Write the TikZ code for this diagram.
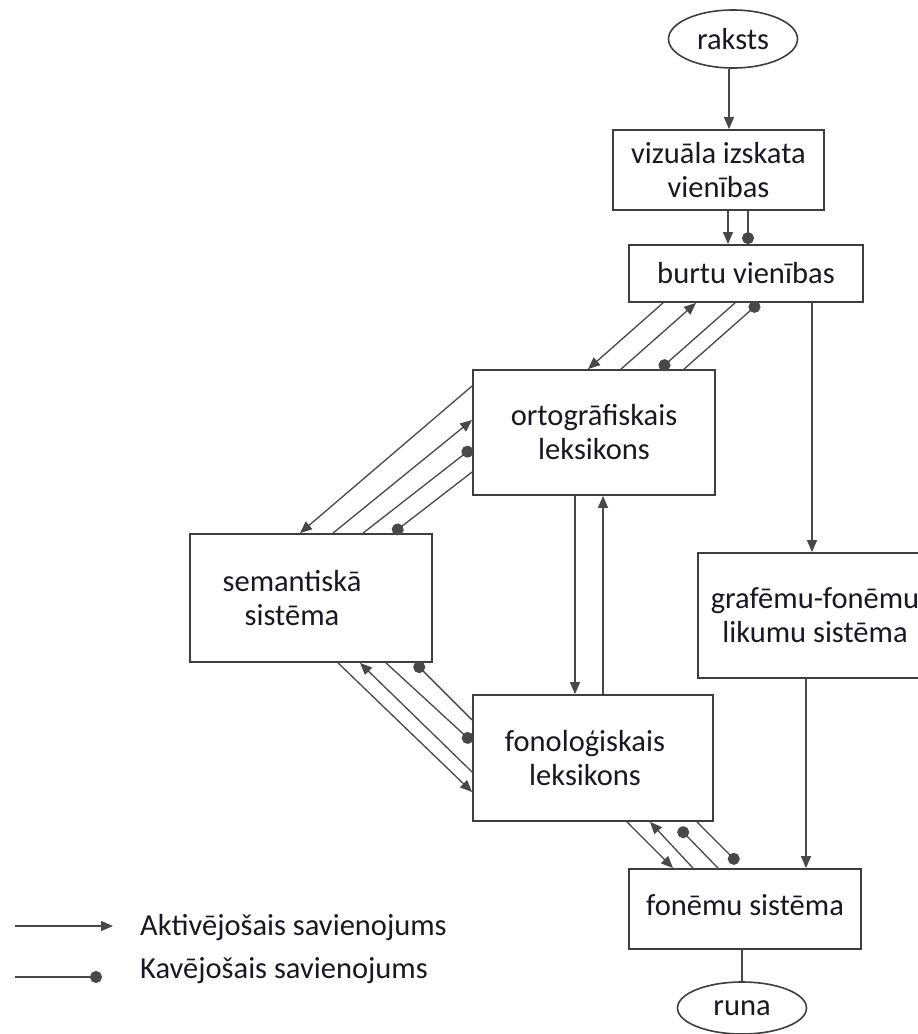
\documentclass[tikz,border=0pt]{standalone}
\usepackage{fontspec}
\setmainfont{Carlito}
\usetikzlibrary{arrows.meta,shapes.geometric,calc}
\definecolor{textc}{RGB}{24,24,36}
\definecolor{linec}{RGB}{72,72,72}
\definecolor{boxc}{RGB}{62,62,62}
\begin{document}
\begin{tikzpicture}[x=1pt,y=-1pt,
  font=\fontsize{30.5}{34}\selectfont,
  box/.style={draw=boxc,line width=1.8pt,text=textc,align=center,inner sep=0pt},
  oval/.style={ellipse,draw=boxc,line width=1.6pt,text=textc,inner sep=0pt},
  txt/.style={text=textc,align=center,inner sep=0pt},
  act/.style={draw=linec,line width=1.3pt,-{Triangle[length=12pt,width=10pt]}},
  inh/.style={draw=linec,line width=1.3pt,-{Circle[length=12pt]}},
  plain/.style={draw=linec,line width=1.3pt}]
\fill[white] (0,0) rectangle (918,1034);
\useasboundingbox (0,0) rectangle (918,1034);

% nodes
\node[oval,minimum width=129,minimum height=58] (raksts) at (733,39) {raksts};
\node[box,minimum width=211,minimum height=80] (viz) at (718.5,170) {vizuāla izskata\\vienības};
\node[box,minimum width=234,minimum height=57] (burtu) at (746,273.5) {burtu vienības};
\node[box,minimum width=242,minimum height=125] (ortho) at (594,432.5) {ortogrāfiskais\\leksikons};
\node[box,minimum width=242,minimum height=128,
  label={[txt,xshift=-19pt]center:semantiskā\\sistēma}] (sem) at (311,598) {};
\node[box,minimum width=234,minimum height=125] (graf) at (815,615.5) {grafēmu-fonēmu\\likumu sistēma};
\node[box,minimum width=240,minimum height=126,
  label={[txt,xshift=-8pt]center:fonoloģiskais\\leksikons}] (fono) at (593,758) {};
\node[box,minimum width=232,minimum height=80,
  label={[txt,yshift=4pt]center:fonēmu sistēma}] (fonemu) at (745,909) {};
\node[oval,minimum width=129,minimum height=52] (runa) at (742,1008) {runa};

% raksts -> viz -> burtu
\draw[act] ($(raksts.south)+(-4,0)$) -- ($(viz.north)+(10.5,0)$);
\draw[act] ($(viz.south)+(9.5,0)$) -- ($(burtu.north)+(-18,0)$);
\draw[inh] ($(viz.south)+(29.5,0)$) -- ($(burtu.north)+(2,0)$);

% burtu <-> ortho
\draw[act] ($(burtu.south)+(-83,0)$) -- ($(ortho.north)+(-6,0)$);
\draw[act] ($(ortho.north)+(27,0)$) -- ($(burtu.south)+(-50,0)$);
\draw[inh] ($(burtu.south)+(-11,0)$) -- ($(ortho.north)+(66,0)$);
\draw[inh] ($(ortho.north)+(90,0)$) -- ($(burtu.south)+(13,0)$);

% ortho <-> sem
\draw[act] ($(ortho.west)+(0,-46.5)$) -- ($(sem.north)+(-11,0)$);
\draw[act] ($(sem.north)+(22,0)$) -- ($(ortho.west)+(0,-12.5)$);
\draw[inh] ($(sem.north)+(52,0)$) -- ($(ortho.west)+(0,15.5)$);
\draw[inh] ($(ortho.west)+(0,39.5)$) -- ($(sem.north)+(82,0)$);

% sem <-> fono
\draw[act] ($(sem.south)+(27,0)$) -- ($(fono.west)+(0,34)$);
\draw[act] ($(fono.west)+(0,14)$) -- ($(sem.south)+(49,0)$);
\draw[inh] ($(sem.south)+(75,0)$) -- ($(fono.west)+(0,-16)$);
\draw[inh] ($(fono.west)+(0,-38)$) -- ($(sem.south)+(104,0)$);

% ortho <-> fono
\draw[act] ($(ortho.south)+(-19,0)$) -- ($(fono.north)+(-18,0)$);
\draw[act] ($(fono.north)+(10,0)$) -- ($(ortho.south)+(9,0)$);

% fono <-> fonemu
\draw[act] ($(fono.south)+(34,0)$) -- ($(fonemu.north)+(-72,0)$);
\draw[act] ($(fonemu.north)+(-52,0)$) -- ($(fono.south)+(57,0)$);
\draw[inh] ($(fonemu.north)+(-27,0)$) -- ($(fono.south)+(86,6)$);
\draw[inh] ($(fono.south)+(104,0)$) -- ($(fonemu.north)+(-7,-5)$);

% burtu -> graf -> fonemu
\draw[act] ($(burtu.south)+(66,0)$) -- ($(graf.north)+(-3,0)$);
\draw[act] ($(graf.south)+(-9,0)$) -- ($(fonemu.north)+(61,0)$);

% fonemu -- runa
\draw[plain] (fonemu.south -| runa.north) -- (runa.north);

% legend
\coordinate (la1) at (15,926);
\coordinate (la2) at (113,926);
\coordinate (lb1) at (15,977);
\coordinate (lb2) at (102,977);
\draw[act] (la1) -- (la2);
\draw[inh] (lb1) -- (lb2);
\node[txt,anchor=base west] (lta) at (140,935) {Aktivējošais savienojums};
\node[txt,anchor=base west] (ltb) at (140,978) {Kavējošais savienojums};
\end{tikzpicture}
\end{document}
